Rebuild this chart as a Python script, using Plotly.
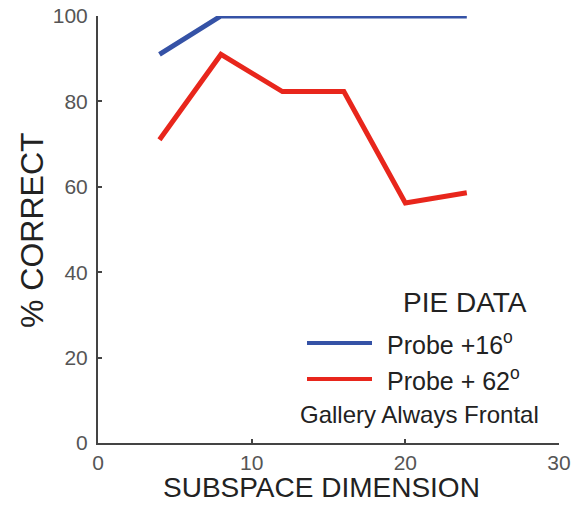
import plotly.graph_objects as go

# Subspace dimension (x) and % correct for the two probe angles
dims = [4, 8, 12, 16, 20, 24]
probe_16 = [91, 100, 100, 100, 100, 100]
probe_62 = [71, 91, 82.3, 82.3, 56.2, 58.6]

x_ticks = [0, 10, 20, 30]
y_ticks = [0, 20, 40, 60, 80, 100]

BLUE = "#3552a6"
RED = "#e8261c"
FONT = "Liberation Sans, Arial, sans-serif"

fig = go.Figure()
fig.add_trace(go.Scatter(x=dims, y=probe_16, mode="lines",
                         line=dict(color=BLUE, width=5), name="Probe +16°"))
fig.add_trace(go.Scatter(x=dims, y=probe_62, mode="lines",
                         line=dict(color=RED, width=5), name="Probe + 62°"))

axis_common = dict(showline=True, linecolor="#444", linewidth=2, ticks="inside",
                   ticklen=4, tickwidth=2, tickcolor="#444", showgrid=False,
                   zeroline=False, automargin=False,
                   tickfont=dict(family=FONT, size=21, color="#555"))

fig.update_xaxes(range=[0, 30], tickvals=x_ticks, **axis_common)
fig.update_yaxes(range=[0, 100], tickvals=y_ticks, ticklabelstandoff=4, **axis_common)

# Plot-area edges in pixels, used to place titles and the legend block
L, R, T, B = 98, 559, 16, 443


def px(x):
    return (x - L) / (R - L)


def py(y):
    return (B - y) / (B - T)


title_color = "#222"
fig.add_annotation(text="SUBSPACE DIMENSION", x=px(321), y=py(488),
                   xanchor="center", yanchor="middle", xref="paper", yref="paper",
                   showarrow=False, font=dict(family=FONT, size=28, color=title_color))
fig.add_annotation(text="% CORRECT", x=px(32), y=py(230), textangle=-90,
                   xanchor="center", yanchor="middle", xref="paper", yref="paper",
                   showarrow=False, font=dict(family=FONT, size=32, color=title_color))

legend_font = dict(family=FONT, size=25, color="#222")
for y_pos, color in [(343, BLUE), (379, RED)]:
    fig.add_shape(type="line", xref="paper", yref="paper",
                  x0=px(307), x1=px(372), y0=py(y_pos), y1=py(y_pos),
                  line=dict(color=color, width=4))

fig.add_annotation(text="PIE DATA", x=px(465), y=py(302), xanchor="center",
                   yanchor="middle", xref="paper", yref="paper",
                   showarrow=False, font=dict(family=FONT, size=28, color="#222"))
fig.add_annotation(text="Probe +16<sup>o</sup>", x=px(385), y=py(343),
                   xanchor="left", yanchor="middle", xref="paper", yref="paper",
                   showarrow=False, font=legend_font)
fig.add_annotation(text="Probe + 62<sup>o</sup>", x=px(385), y=py(379),
                   xanchor="left", yanchor="middle", xref="paper", yref="paper",
                   showarrow=False, font=legend_font)
fig.add_annotation(text="Gallery Always Frontal", x=px(541), y=py(414),
                   xanchor="right", yanchor="middle", xref="paper", yref="paper",
                   showarrow=False, font=dict(family=FONT, size=24, color="#222"))

fig.update_layout(width=584, height=506, showlegend=False,
                  margin=dict(l=L, r=584 - R, t=T, b=506 - B),
                  plot_bgcolor="white", paper_bgcolor="white")

fig.write_html("out.html")
